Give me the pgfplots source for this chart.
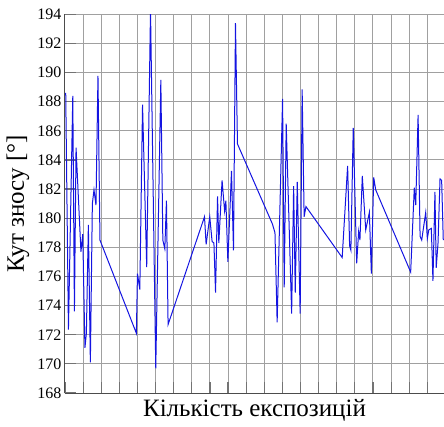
\documentclass[border=0pt]{standalone}
\usepackage{pgfplots}
\pgfplotsset{compat=1.18}
\usepackage{fontspec}
\setmainfont{Liberation Serif}
\newfontfamily\chartfont{Liberation Serif}

\definecolor{trace}{RGB}{20,20,225}
\definecolor{gridgray}{RGB}{160,160,160}

\begin{document}
\begin{tikzpicture}
\begin{axis}[
    scale only axis,
    width=379pt,
    height=378.7pt,
    xmin=0, xmax=209.2,
    ymin=168, ymax=194,
    xtick distance=10,
    ytick distance=2,
    xticklabels={},
    grid=major,
    major grid style={gridgray, line width=1pt},
    axis x line*=bottom,
    axis y line*=left,
    axis line style={black!70, line width=1pt, -},
    tick align=inside,
    major tick length=11pt,
    tick style={black!55, line width=1.2pt},
    tick label style={font=\chartfont\fontsize{16}{18}\selectfont},
    /pgf/number format/assume math mode=true,
    xlabel={Кількість експозицій},
    ylabel={Кут зносу [°]},
    label style={font=\chartfont\fontsize{25}{25}\selectfont},
    x label style={at={(axis description cs:0.5,0)}, anchor=north, yshift=-3pt},
    y label style={at={(axis description cs:-0.085,0.5)}, anchor=south},
]
\addplot[trace, line width=1pt] coordinates {
(0.4,188.6) (1.9,172.35) (4.3,188.4) (5.2,173.6) (6.1,184.85)
(7.7,180.6) (8.8,177.7) (9.8,178.9) (11.0,171.1) (11.8,172.1)
(12.9,179.55) (14.0,170.1) (15.1,181.0) (16.0,181.95) (17.1,180.9)
(18.2,189.77) (19.3,178.5) (39.4,172.1) (40.0,176.2) (41.3,175.1)
(42.8,187.8) (45.1,176.65) (47.2,194.3) (50.1,169.7) (52.9,189.5)
(54.0,178.5) (55.1,177.9) (56.0,181.2) (56.9,172.7) (77.0,180.1)
(77.9,178.2) (79.9,180.1) (81.2,178.4) (82.2,178.3) (83.1,174.9)
(84.2,181.5) (84.9,178.3) (86.7,182.6) (88.1,180.5) (88.8,181.2)
(89.9,177.0) (91.9,183.25) (93.0,177.8) (94.1,193.4) (95.2,185.1)
(114.5,179.6) (115.9,179.0) (117.1,172.85) (120.1,188.2) (121.0,175.25)
(122.1,186.5) (125.1,173.45) (126.2,182.2) (127.1,174.9) (128.2,182.5)
(129.8,173.45) (130.9,188.85) (132.0,180.1) (133.0,180.8) (153.0,177.3)
(156.0,183.6) (157.1,178.1) (157.8,177.8) (159.1,186.2) (161.0,176.9)
(162.1,179.1) (162.8,178.5) (164.1,182.9) (166.0,179.2) (168.0,180.4)
(169.1,176.2) (170.4,182.8) (171.5,181.95) (190.8,176.3) (192.8,182.1)
(193.6,180.9) (194.9,187.1) (196.0,178.75) (196.9,178.5) (199.1,180.4)
(200.0,178.6) (200.8,179.2) (202.2,179.3) (203.1,175.7) (204.2,181.8)
(204.9,176.6) (205.9,178.3) (207.0,182.7) (207.9,182.6) (208.8,178.5)
};
\coordinate (sw) at (rel axis cs:0,0);
\coordinate (ne) at (rel axis cs:1,1);
\end{axis}
\pgfresetboundingbox
\path[use as bounding box] ([shift={(-65pt,-33pt)}]sw) rectangle ([shift={(0pt,14.3pt)}]ne);
\end{tikzpicture}
\end{document}
